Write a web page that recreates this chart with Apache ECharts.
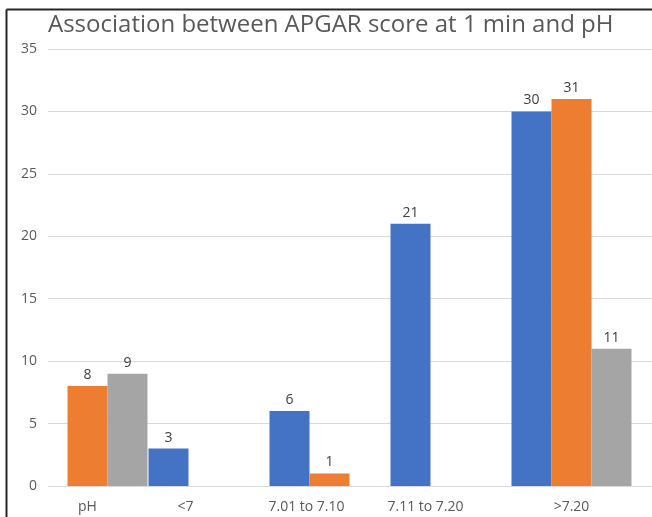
<!DOCTYPE html>
<html>
<head>
<meta charset="utf-8">
<script src="https://cdn.jsdelivr.net/npm/echarts@6/dist/echarts.min.js"></script>
<style>
  html, body { margin: 0; padding: 0; background: #fff; }
  #main { width: 652px; height: 517px; }
</style>
</head>
<body>
<div id="main"></div>
<script>
// 数据
const categories = ['pH', '<7', '7.01 to 7.10', '7.11 to 7.20', '>7.20'];
const blueValues = [null, 3, 6, 21, 30];
const orangeValues = [8, null, 1, null, 31];
const greyValues = [9, null, null, null, 11];
const yTicks = { min: 0, max: 35, interval: 5 };

// label nudges (px to the left) so the category text sits like the original
const labelShift = [0, 23, 23, 25, 0];

let myChart = echarts.init(document.getElementById('main'));

const labelStyle = {
  show: true,
  position: 'top',
  distance: 4,
  color: '#404040',
  fontSize: 14,
  fontFamily: 'Open Sans'
};

let option = {
  animation: false,
  title: {
    text: 'Association between APGAR score at 1 min and pH',
    left: 43,
    top: 8,
    textStyle: { color: '#595959', fontSize: 24, fontWeight: 'normal', fontFamily: 'Open Sans' }
  },
  // grid 0: gridlines + y labels, grid 1: the bars
  grid: [
    { left: 48, right: 0, top: 49, bottom: 31 },
    { left: 27, right: 20, top: 49, bottom: 31 }
  ],
  xAxis: [
    { type: 'category', gridIndex: 0, data: categories, show: false },
    {
      type: 'category', gridIndex: 1, data: categories,
      axisLine: { show: false }, axisTick: { show: false },
      axisLabel: {
        margin: 14,
        interval: 0,
        formatter: function (v, i) { return '{s' + i + '|' + v + '}'; },
        rich: (function () {
          let r = {};
          labelShift.forEach(function (s, i) {
            r['s' + i] = { color: '#595959', fontSize: 14, fontFamily: 'Open Sans', padding: [0, s * 2, 0, 0] };
          });
          return r;
        })()
      }
    }
  ],
  yAxis: [
    {
      type: 'value', gridIndex: 0,
      min: yTicks.min, max: yTicks.max, interval: yTicks.interval,
      axisLine: { show: false }, axisTick: { show: false },
      axisLabel: { color: '#595959', fontSize: 14, fontFamily: 'Open Sans', margin: 11 },
      splitLine: { lineStyle: { color: '#D9D9D9', width: 1 } }
    },
    {
      type: 'value', gridIndex: 1,
      min: yTicks.min, max: yTicks.max, interval: yTicks.interval,
      show: false, splitLine: { show: false }
    }
  ],
  series: [
    { name: 'Series1', type: 'bar', xAxisIndex: 1, yAxisIndex: 1, data: blueValues,
      barWidth: 40, barGap: 0, itemStyle: { color: '#4472C4' }, label: labelStyle },
    { name: 'Series2', type: 'bar', xAxisIndex: 1, yAxisIndex: 1, data: orangeValues,
      barWidth: 40, barGap: 0, itemStyle: { color: '#ED7D31' }, label: labelStyle },
    { name: 'Series3', type: 'bar', xAxisIndex: 1, yAxisIndex: 1, data: greyValues,
      barWidth: 40, barGap: 0, itemStyle: { color: '#A5A5A5' }, label: labelStyle }
  ],
  // 外框（原图左、上的深色边线）
  graphic: [
    { type: 'line', shape: { x1: 6.5, y1: 9.5, x2: 652, y2: 9.5 }, style: { stroke: '#262626', lineWidth: 2 } },
    { type: 'line', shape: { x1: 6.5, y1: 9.5, x2: 6.5, y2: 517 }, style: { stroke: '#262626', lineWidth: 2 } }
  ]
};

myChart.setOption(option);
</script>
</body>
</html>
